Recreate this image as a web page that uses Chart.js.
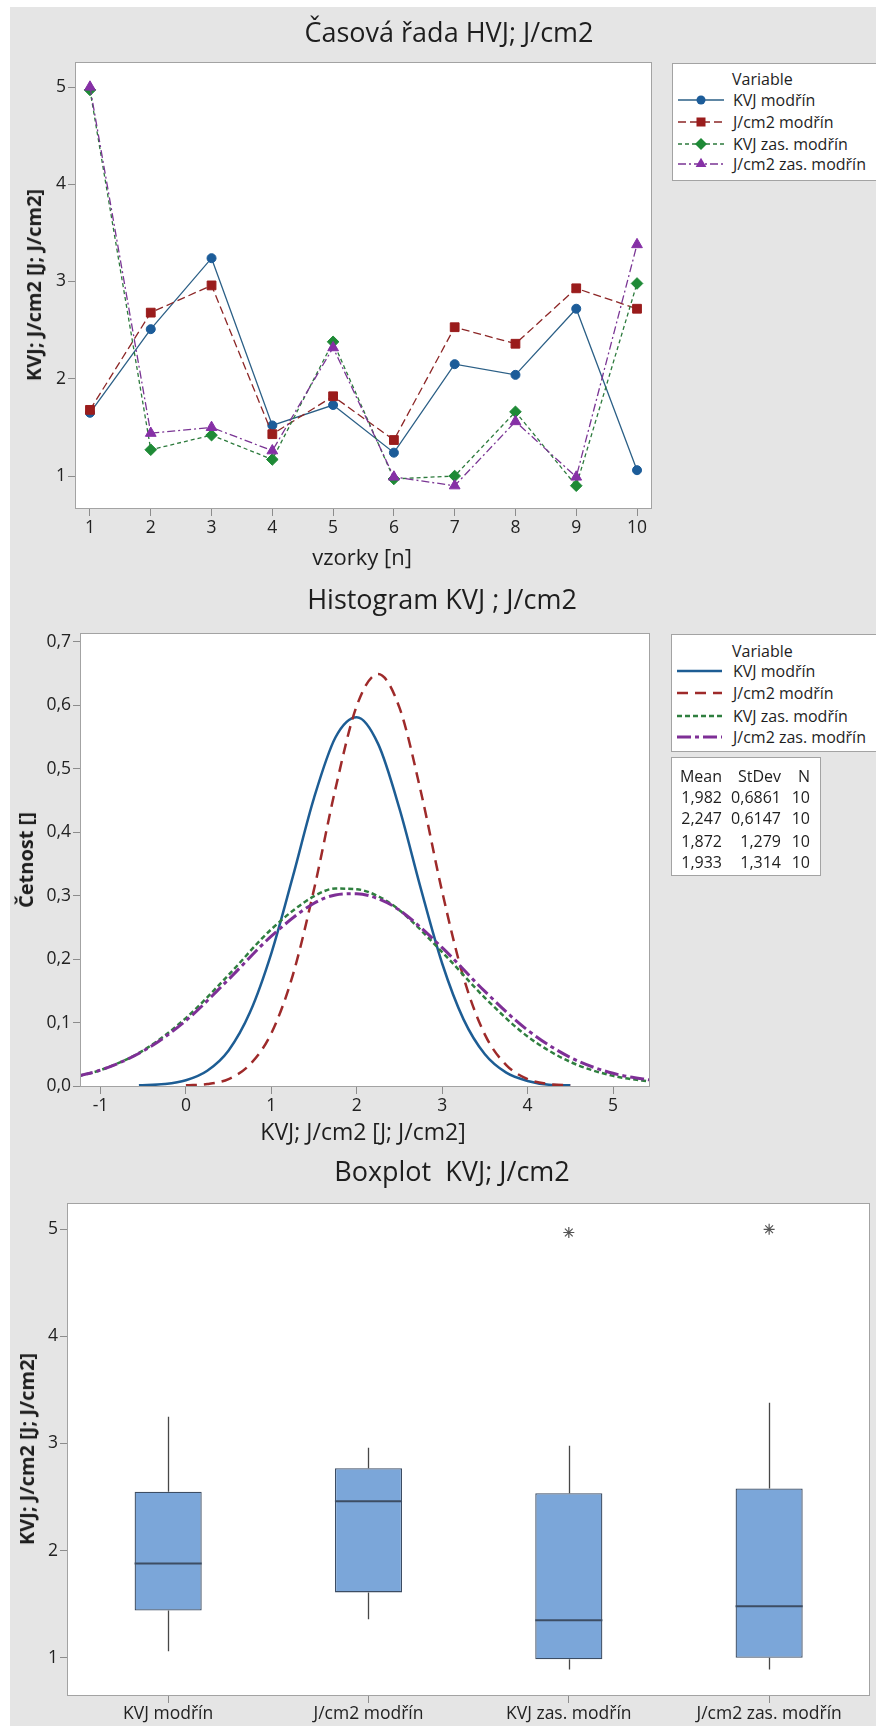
<!DOCTYPE html>
<html>
<head>
<meta charset="utf-8">
<script src="https://cdn.jsdelivr.net/npm/chart.js@4.4.1/dist/chart.umd.min.js"></script>
<style>
  html, body { margin: 0; padding: 0; background: #fff; overflow: hidden; }
  body { width: 876px; height: 1726px; position: relative; font-family: 'Open Sans', sans-serif; color: #1e1e1e; }
  #bg { position: absolute; left: 10px; top: 7px; right: 0; bottom: 0; background: #e5e5e5; }
  canvas { position: absolute; left: 0; }
  .t { position: absolute; transform: translate(-50%, -50%); white-space: pre; line-height: 1; }
  .t.rot { transform: translate(-50%, -50%) rotate(-90deg); }
  .l { position: absolute; transform: translateY(-50%); white-space: pre; line-height: 1; }
  .r { position: absolute; transform: translate(-100%, -50%); white-space: pre; line-height: 1; }
  .box { position: absolute; background: #fff; border: 1px solid #a3a3a3; box-sizing: border-box; }
  svg { position: absolute; overflow: visible; }
</style>
</head>
<body>
<div id="bg"></div>
<canvas id="c1" width="876" height="580" style="top:0"></canvas>
<canvas id="c2" width="876" height="560" style="top:580px"></canvas>
<canvas id="c3" width="876" height="586" style="top:1140px"></canvas>
<script>
// ---- data ----
const seriesNames = ['KVJ modřín', 'J/cm2 modřín', 'KVJ zas. modřín', 'J/cm2 zas. modřín'];

// casova rada
const samples = [1, 2, 3, 4, 5, 6, 7, 8, 9, 10];
const kvjModrin = [1.65, 2.51, 3.24, 1.52, 1.73, 1.24, 2.15, 2.04, 2.72, 1.06];
const jcmModrin = [1.68, 2.68, 2.96, 1.43, 1.82, 1.37, 2.53, 2.36, 2.93, 2.72];
const kvjZas = [4.97, 1.27, 1.42, 1.17, 2.38, 0.97, 1.00, 1.66, 0.90, 2.98];
const jcmZas = [5.00, 1.44, 1.50, 1.26, 2.32, 0.99, 0.90, 1.56, 0.99, 3.38];
const timeYTicks = [1, 2, 3, 4, 5];

// histogram - fitted curves
const fitKvjX = [-0.55, -0.25, 0, 0.25, 0.5, 0.75, 1, 1.25, 1.5, 1.75, 2, 2.25, 2.5, 2.75, 3, 3.25, 3.5, 3.75, 4, 4.25, 4.5];
const fitKvjY = [0.001, 0.003, 0.009, 0.024, 0.056, 0.116, 0.209, 0.329, 0.454, 0.549, 0.581, 0.539, 0.437, 0.311, 0.193, 0.105, 0.050, 0.021, 0.008, 0.002, 0.001];
const fitJcmX = [0, 0.25, 0.5, 0.75, 1, 1.25, 1.5, 1.75, 2, 2.25, 2.5, 2.75, 3, 3.25, 3.5, 3.75, 4, 4.25, 4.5];
const fitJcmY = [0.001, 0.003, 0.011, 0.034, 0.083, 0.174, 0.310, 0.468, 0.599, 0.649, 0.596, 0.464, 0.306, 0.171, 0.081, 0.033, 0.011, 0.003, 0.001];
const fitKvjZasX = [-1.25, -1, -0.5, 0, 0.5, 1, 1.5, 1.75, 2, 2.25, 2.5, 3, 3.5, 4, 4.5, 5, 5.5];
const fitKvjZasY = [0.016, 0.025, 0.056, 0.107, 0.175, 0.247, 0.299, 0.311, 0.310, 0.299, 0.277, 0.211, 0.139, 0.078, 0.038, 0.016, 0.006];
const fitJcmZasX = [-1.25, -1, -0.5, 0, 0.5, 1, 1.5, 1.75, 2, 2.25, 2.5, 3, 3.5, 4, 4.5, 5, 5.5];
const fitJcmZasY = [0.016, 0.025, 0.055, 0.103, 0.168, 0.236, 0.288, 0.301, 0.303, 0.295, 0.277, 0.218, 0.149, 0.088, 0.045, 0.020, 0.008];
const histXTicks = [-1, 0, 1, 2, 3, 4, 5];
const histYTicks = [0, 0.1, 0.2, 0.3, 0.4, 0.5, 0.6, 0.7];
const fitMean = [1.982, 2.247, 1.872, 1.933];
const fitStDev = [0.6861, 0.6147, 1.279, 1.314];
const fitN = [10, 10, 10, 10];

// boxplot
const boxQ1 = [1.44, 1.61, 0.985, 1.00];
const boxMedian = [1.88, 2.46, 1.35, 1.48];
const boxQ3 = [2.55, 2.77, 2.535, 2.58];
const whiskerLow = [1.06, 1.36, 0.89, 0.89];
const whiskerHigh = [3.25, 2.96, 2.98, 3.38];
const outliers = [null, null, 4.97, 5.00];
const boxYTicks = [1, 2, 3, 4, 5];

// ---- styles ----
const markerColors = ['#1c5c99', '#9a1c1c', '#1e8a36', '#8630a6'];
const lineColors = ['#2b5f86', '#8c2626', '#2c7a3c', '#7a3594'];
const curveColors = ['#1d5d94', '#9e2a2a', '#2f7f3f', '#7e2f96'];
const timeDash = [[], [8, 4], [4, 3], [8, 3, 2, 3]];
const curveDash = [[], [11, 7], [5, 3], [14, 4, 4, 4]];
const curveWidth = [2.5, 2.5, 2.5, 3];
const markerStyle = ['circle', 'rect', 'rectRot', 'triangle'];
const markerRadius = [4.5, 6.2, 5.8, 6.2];
const frameColor = '#a3a3a3';
const tickColor = '#8c8c8c';
const boxFill = '#7ba6d9';
const boxEdge = '#3d4d63';
const titleSize = 27;
const legendSize = 16;
const yTitleSize = 20;

Chart.defaults.font.family = "'Open Sans', sans-serif";
Chart.defaults.font.size = 17.5;
Chart.defaults.color = '#222';
Chart.defaults.animation = false;
Chart.defaults.plugins.legend.display = false;
Chart.defaults.plugins.tooltip.enabled = false;

const frame = {
  id: 'frame',
  beforeDraw(chart) {
    const a = chart.chartArea, ctx = chart.ctx;
    ctx.save();
    ctx.fillStyle = '#fff';
    ctx.fillRect(a.left, a.top, a.width, a.height);
    ctx.restore();
  },
  afterDraw(chart) {
    const a = chart.chartArea, ctx = chart.ctx;
    ctx.save();
    ctx.strokeStyle = frameColor;
    ctx.lineWidth = 1;
    ctx.strokeRect(Math.round(a.left) - 0.5, Math.round(a.top) - 0.5, Math.round(a.width) + 1, Math.round(a.height) + 1);
    ctx.restore();
  }
};

// whiskers and median lines of the boxplot
const boxParts = {
  id: 'boxParts',
  afterDatasetsDraw(chart) {
    const { ctx, scales: { x, y } } = chart;
    const bars = chart.getDatasetMeta(0).data;
    ctx.save();
    bars.forEach((bar, i) => {
      const cx = Math.round(x.getPixelForValue(i)) + 0.5;
      ctx.strokeStyle = '#474747';
      ctx.lineWidth = 1.3;
      ctx.beginPath();
      ctx.moveTo(cx, y.getPixelForValue(boxQ3[i]));
      ctx.lineTo(cx, y.getPixelForValue(whiskerHigh[i]));
      ctx.moveTo(cx, y.getPixelForValue(boxQ1[i]));
      ctx.lineTo(cx, y.getPixelForValue(whiskerLow[i]));
      ctx.stroke();
      const my = y.getPixelForValue(boxMedian[i]);
      ctx.strokeStyle = boxEdge;
      ctx.lineWidth = 2;
      ctx.beginPath();
      ctx.moveTo(bar.x - bar.width / 2, my);
      ctx.lineTo(bar.x + bar.width / 2, my);
      ctx.stroke();
    });
    ctx.restore();
  }
};

const comma = v => String(v).replace('.', ',');

function axis(min, max, ticks, size, fmt) {
  return {
    type: 'linear', min, max,
    afterBuildTicks: s => { s.ticks = ticks.map(v => ({ value: v })); },
    afterFit: s => { if (s.isHorizontal()) s.height = size; else s.width = size; },
    grid: { drawOnChartArea: false, color: tickColor, tickLength: 8 },
    border: { display: false },
    ticks: { padding: 2, callback: fmt || (v => String(v)) }
  };
}

// ---- casova rada ----
const timeSeries = [kvjModrin, jcmModrin, kvjZas, jcmZas];
new Chart(document.getElementById('c1'), {
  type: 'line',
  data: {
    datasets: seriesNames.map((name, i) => ({
      label: name,
      data: samples.map((s, k) => ({ x: s, y: timeSeries[i][k] })),
      borderColor: lineColors[i],
      backgroundColor: markerColors[i],
      pointBorderColor: markerColors[i],
      pointBackgroundColor: markerColors[i],
      borderWidth: 1.3,
      borderDash: timeDash[i],
      pointStyle: markerStyle[i],
      pointRadius: markerRadius[i],
      pointBorderWidth: 1,
      tension: 0,
      order: 3 - i
    }))
  },
  options: {
    responsive: false,
    layout: { padding: { left: 0, top: 63, right: 225, bottom: 0 } },
    scales: {
      x: axis(0.77, 10.23, samples, 72),
      y: axis(0.671, 5.247, timeYTicks, 76)
    }
  },
  plugins: [frame]
});

// ---- histogram ----
const fitX = [fitKvjX, fitJcmX, fitKvjZasX, fitJcmZasX];
const fitY = [fitKvjY, fitJcmY, fitKvjZasY, fitJcmZasY];
new Chart(document.getElementById('c2'), {
  type: 'line',
  data: {
    datasets: seriesNames.map((name, i) => ({
      label: name,
      data: fitX[i].map((v, k) => ({ x: v, y: fitY[i][k] })),
      borderColor: curveColors[i],
      borderWidth: curveWidth[i],
      borderDash: curveDash[i],
      pointRadius: 0,
      cubicInterpolationMode: 'monotone',
      order: 3 - i
    }))
  },
  options: {
    responsive: false,
    layout: { padding: { left: 0, top: 54, right: 227, bottom: 0 } },
    scales: {
      x: axis(-1.228, 5.421, histXTicks, 54),
      y: axis(0, 0.7121, histYTicks, 81, v => v.toFixed(1).replace('.', ','))
    }
  },
  plugins: [frame]
});

// ---- boxplot ----
new Chart(document.getElementById('c3'), {
  type: 'bar',
  data: {
    labels: seriesNames,
    datasets: [
      {
        type: 'bar',
        data: boxQ1.map((v, i) => [v, boxQ3[i]]),
        backgroundColor: boxFill,
        borderColor: boxEdge,
        borderWidth: 1.3,
        borderSkipped: false,
        categoryPercentage: 1,
        barPercentage: 0.335
      },
      {
        type: 'line',
        data: outliers,
        showLine: false,
        pointStyle: 'star',
        pointRadius: 5.5,
        pointBorderColor: '#555',
        pointBorderWidth: 1.2
      }
    ]
  },
  options: {
    responsive: false,
    layout: { padding: { left: 0, top: 64, right: 2, bottom: 0 } },
    scales: {
      x: {
        type: 'category',
        offset: true,
        afterFit: s => { s.height = 31; },
        grid: { offset: false, drawOnChartArea: false, color: tickColor, tickLength: 8 },
        border: { display: false },
        ticks: { padding: 1 }
      },
      y: axis(0.652, 5.236, boxYTicks, 68)
    }
  },
  plugins: [frame, boxParts]
});

// ---- texts, legends ----
function text(cls, txt, x, y, size, bold) {
  const d = document.createElement('div');
  d.className = cls;
  d.textContent = txt;
  d.style.left = x + 'px';
  d.style.top = y + 'px';
  d.style.fontSize = size + 'px';
  if (bold) d.style.fontWeight = 700;
  document.body.appendChild(d);
}
function box(x, y, w, h) {
  const d = document.createElement('div');
  d.className = 'box';
  Object.assign(d.style, { left: x + 'px', top: y + 'px', width: w + 'px', height: h + 'px' });
  document.body.appendChild(d);
}
function markerSvg(style, color, cx, cy) {
  if (style === 'circle') return `<circle cx="${cx}" cy="${cy}" r="4.5" fill="${color}"/>`;
  if (style === 'rect') return `<rect x="${cx - 4.5}" y="${cy - 4.5}" width="9" height="9" fill="${color}"/>`;
  if (style === 'rectRot') return `<polygon points="${cx},${cy - 6} ${cx + 6},${cy} ${cx},${cy + 6} ${cx - 6},${cy}" fill="${color}"/>`;
  return `<polygon points="${cx},${cy - 6.2} ${cx + 5.4},${cy + 3.1} ${cx - 5.4},${cy + 3.1}" fill="${color}"/>`;
}
function sample(x, y, w, color, width, dash, marker) {
  const s = document.createElementNS('http://www.w3.org/2000/svg', 'svg');
  s.setAttribute('width', w);
  s.setAttribute('height', 14);
  s.style.left = x + 'px';
  s.style.top = (y - 7) + 'px';
  s.innerHTML = `<line x1="0" y1="7" x2="${w}" y2="7" stroke="${color}" stroke-width="${width}" stroke-dasharray="${dash.join(' ') || 'none'}"/>` +
    (marker ? markerSvg(marker.style, marker.color, w / 2, 7) : '');
  document.body.appendChild(s);
}

// panel 1
text('t', 'Časová řada HVJ; J/cm2', 449, 31, titleSize);
text('t rot', 'KVJ; J/cm2 [J; J/cm2]', 34, 285, yTitleSize, true);
text('t', 'vzorky [n]', 362, 556, 22);
box(672, 63, 214, 118);
text('l', 'Variable', 732, 79, legendSize);
const leg1Y = [100, 122, 144, 164];
seriesNames.forEach((n, i) => {
  sample(678, leg1Y[i], 46, lineColors[i], 1.3, timeDash[i], { style: markerStyle[i], color: markerColors[i] });
  text('l', n, 733, leg1Y[i], legendSize);
});

// panel 2
text('t', 'Histogram KVJ ; J/cm2', 442, 598, titleSize);
text('t rot', 'Četnost []', 26, 860, yTitleSize, true);
text('t', 'KVJ; J/cm2 [J; J/cm2]', 363, 1131, 23);
box(671, 634, 215, 118);
text('l', 'Variable', 732, 651, legendSize);
const leg2Y = [671, 693, 716, 737];
seriesNames.forEach((n, i) => {
  sample(677, leg2Y[i], 45, curveColors[i], curveWidth[i], curveDash[i], null);
  text('l', n, 733, leg2Y[i], legendSize);
});
box(671, 757, 150, 119);
const statY = [797, 818, 841, 862];
text('r', 'Mean', 722, 776, legendSize);
text('r', 'StDev', 781, 776, legendSize);
text('r', 'N', 810, 776, legendSize);
fitMean.forEach((m, i) => {
  text('r', comma(m), 722, statY[i], legendSize);
  text('r', comma(fitStDev[i]), 781, statY[i], legendSize);
  text('r', String(fitN[i]), 810, statY[i], legendSize);
});

// panel 3
text('t', 'Boxplot  KVJ; J/cm2', 452, 1170, titleSize);
text('t rot', 'KVJ; J/cm2 [J; J/cm2]', 27, 1449, yTitleSize, true);
</script>
</body>
</html>
